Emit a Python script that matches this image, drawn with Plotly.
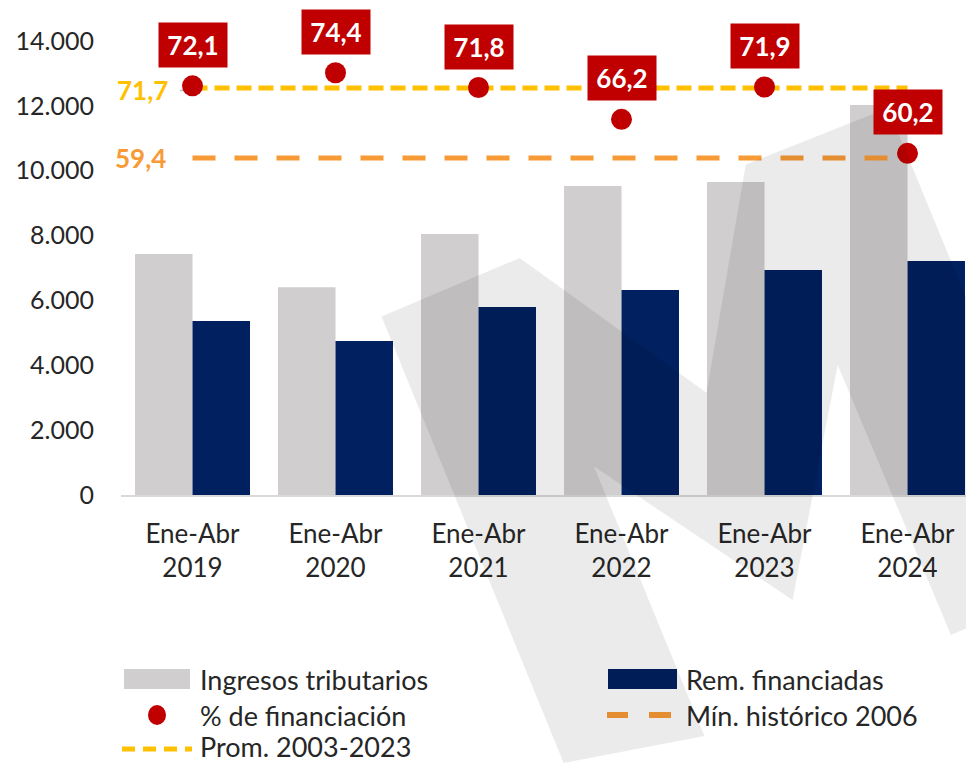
import plotly.graph_objects as go

# ---------------- data ----------------
categories = ["Ene-Abr<br>2019", "Ene-Abr<br>2020", "Ene-Abr<br>2021",
              "Ene-Abr<br>2022", "Ene-Abr<br>2023", "Ene-Abr<br>2024"]
ingresos_tributarios = [7430, 6410, 8050, 9530, 9650, 12030]
rem_financiadas = [5365, 4750, 5800, 6320, 6940, 7215]
pct_financiacion = [72.1, 74.4, 71.8, 66.2, 71.9, 60.2]
prom_2003_2023 = 71.7
min_historico_2006 = 59.4
y_ticks = [0, 2000, 4000, 6000, 8000, 10000, 12000, 14000]
legend_labels = ["Ingresos tributarios", "Rem. financiadas", "% de financiación",
                 "Mín. histórico 2006", "Prom. 2003-2023"]

# ---------------- style ----------------
FONT = "Lato, 'Open Sans', sans-serif"
TXT = "#262626"
GRAY = "#D0CECE"
NAVY = "#002060"
RED = "#C00000"
YELLOW = "#FFC000"
ORANGE = "#F89A36"

OFF = 8  # page body margin
W, H = 974 - OFF, 763 - OFF
ML, MR, MT, MB = 113, 0, 33, 268
PW, PH = W - ML - MR, H - MT - MB


def fmt(v):
    return f"{v:.1f}".replace(".", ",")


def px(sx):  # screen x -> paper
    return (sx - OFF - ML) / PW


def py(sy):  # screen y -> paper
    return (H - MB - (sy - OFF)) / PH


fig = go.Figure()

fig.add_trace(go.Bar(x=categories, y=ingresos_tributarios, name=legend_labels[0],
                     marker=dict(color=GRAY, line=dict(width=0))))
fig.add_trace(go.Bar(x=categories, y=rem_financiadas, name=legend_labels[1],
                     marker=dict(color=NAVY, line=dict(width=0))))
fig.add_trace(go.Scatter(x=categories, y=[min_historico_2006] * len(categories),
                         name=legend_labels[3], mode="lines", yaxis="y2",
                         line=dict(color=ORANGE, width=5, dash="23px,19px")))
fig.add_trace(go.Scatter(x=categories, y=[prom_2003_2023] * len(categories),
                         name=legend_labels[4], mode="lines", yaxis="y2",
                         line=dict(color=YELLOW, width=5, dash="15px,7px")))
fig.add_trace(go.Scatter(x=categories, y=pct_financiacion, name=legend_labels[2],
                         mode="markers", yaxis="y2",
                         marker=dict(color=RED, size=21, line=dict(width=0))))

annotations = []
for c, v in zip(categories, pct_financiacion):
    annotations.append(dict(x=c, y=v, xref="x", yref="y2", text=f"<b>{fmt(v)}</b>",
                            showarrow=False, yshift=41, bgcolor=RED,
                            font=dict(family=FONT, size=26, color="white"),
                            width=56, height=32, borderpad=6))
annotations.append(dict(x=categories[0], y=prom_2003_2023, xref="x", yref="y2",
                        text=f"<b>{fmt(prom_2003_2023)}</b>", showarrow=False,
                        xanchor="right", xshift=-23, yshift=-2,
                        font=dict(family=FONT, size=26, color=YELLOW)))
annotations.append(dict(x=categories[0], y=min_historico_2006, xref="x", yref="y2",
                        text=f"<b>{fmt(min_historico_2006)}</b>", showarrow=False,
                        xanchor="right", xshift=-25, yshift=0,
                        font=dict(family=FONT, size=26, color=ORANGE)))

# ---- manual legend (two columns) ----
leg_pos = [(199, 679), (685, 679), (199, 715), (685, 715), (199, 746)]
for lab, (lx, ly) in zip(legend_labels, leg_pos):
    annotations.append(dict(x=px(lx), y=py(ly), xref="paper", yref="paper", text=lab,
                            showarrow=False, xanchor="left", yanchor="middle",
                            borderpad=0,
                            font=dict(family=FONT, size=27, color=TXT)))

shapes = []
shapes.append(dict(type="rect", xref="paper", yref="paper", x0=px(124), x1=px(190),
                   y0=py(689), y1=py(669), fillcolor=GRAY, line=dict(width=0)))
shapes.append(dict(type="rect", xref="paper", yref="paper", x0=px(608), x1=px(677),
                   y0=py(689), y1=py(669), fillcolor=NAVY, line=dict(width=0)))
shapes.append(dict(type="circle", xref="paper", yref="paper", x0=px(148), x1=px(166),
                   y0=py(725), y1=py(705), fillcolor=RED, line=dict(width=0)))
for a, b in [(607, 628), (649, 671)]:
    shapes.append(dict(type="line", xref="paper", yref="paper", x0=px(a), x1=px(b),
                       y0=py(715), y1=py(715), line=dict(color=ORANGE, width=6)))
for a, b in [(122, 135), (143, 156), (164, 177), (185, 192)]:
    shapes.append(dict(type="line", xref="paper", yref="paper", x0=px(a), x1=px(b),
                       y0=py(749), y1=py(749), line=dict(color=YELLOW, width=5)))
# small leader line of the "71,7" label
shapes.append(dict(type="line", xref="paper", yref="paper", x0=px(180), x1=px(192),
                   y0=py(90.5), y1=py(90.5), line=dict(color="#BFBFBF", width=1.5),
                   layer="below"))

# watermark (decorative)
wm = [(381.5, 316.6), (519.7, 258), (706.5, 392.7), (745.7, 164.5), (888, 108),
      (1000, 380), (1000, 614), (951, 635), (837.7, 365), (792.6, 600),
      (594, 466.5), (704.5, 736), (563.6, 763)]
path = "M" + " L".join(f"{px(x):.4f},{py(y):.4f}" for x, y in wm) + " Z"
shapes.append(dict(type="path", path=path, xref="paper", yref="paper",
                   fillcolor="rgba(0,0,0,0.08)", line=dict(width=0), layer="above"))

fig.update_traces(showlegend=False)
fig.update_layout(
    width=W, height=H,
    margin=dict(l=ML, r=MR, t=MT, b=MB, pad=0),
    paper_bgcolor="white", plot_bgcolor="white",
    separators=",.",
    font=dict(family=FONT, size=25, color=TXT),
    barmode="group", bargap=0.196, bargroupgap=0,
    showlegend=False,
    xaxis=dict(type="category", range=[-0.5, 5.465], showgrid=False,
               showline=True, linecolor="#D9D9D9", linewidth=2, ticks="",
               ticklabelstandoff=15,
               tickfont=dict(family=FONT, size=26, color=TXT), fixedrange=True),
    yaxis=dict(range=[0, 14000], tickvals=y_ticks, tickformat=",.0f", showgrid=False,
               zeroline=False, showline=False, ticks="", ticklabelstandoff=26,
               tickfont=dict(family=FONT, size=25, color=TXT)),
    yaxis2=dict(range=[0, 80], overlaying="y", side="right", visible=False,
                showgrid=False, zeroline=False),
    annotations=annotations,
    shapes=shapes,
)

fig.write_html("out.html")
